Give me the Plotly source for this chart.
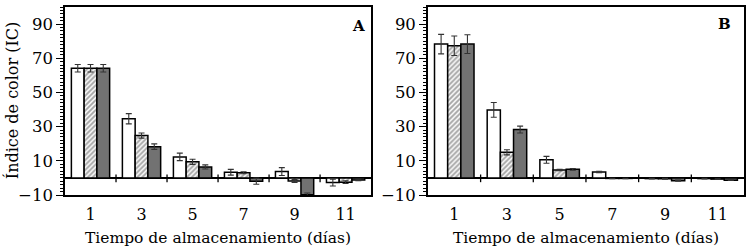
import plotly.graph_objects as go
from plotly.subplots import make_subplots

days = [1, 3, 5, 7, 9, 11]
tick_labels = ["1", "3", "5", "7", "9", "11"]
y_ticks = [-10, 10, 30, 50, 70, 90]

# Panel A
a_white = [64.2, 34.6, 12.3, 3.3, 3.7, -2.7]
a_white_err = [2.2, 3.0, 2.2, 1.7, 2.3, 2.0]
a_hatch = [64.2, 24.8, 9.4, 3.0, -1.8, -2.5]
a_hatch_err = [2.2, 1.5, 1.5, 0.6, 0.8, 0.8]
a_dark = [64.2, 18.3, 6.4, -1.9, -9.8, -1.2]
a_dark_err = [2.2, 1.6, 1.2, 1.8, 1.0, 0.4]

# Panel B
b_white = [78.3, 39.8, 10.6, 3.5, -0.4, -0.4]
b_white_err = [5.7, 4.3, 2.0, 0.4, 0.2, 0.2]
b_hatch = [77.3, 15.0, 4.6, -0.3, -0.5, -0.7]
b_hatch_err = [5.7, 1.5, 0.4, 0.1, 0.2, 0.2]
b_dark = [78.3, 28.3, 5.0, -0.3, -1.6, -1.3]
b_dark_err = [5.5, 2.0, 0.5, 0.1, 0.3, 0.2]

FONT = "DejaVu Serif"
W, H = 751, 251
ML, MR, MT, MB = 65, 5, 5, 56

fig = make_subplots(rows=1, cols=2, horizontal_spacing=0.08)


def add_bar(vals, errs, col, style):
    marker = dict(line=dict(color="black", width=1.5))
    if style == "white":
        marker["color"] = "white"
    elif style == "hatch":
        marker["color"] = "white"
        marker["pattern"] = dict(shape="/", fgcolor="#4a4a4a", bgcolor="white", size=3.5, solidity=0.55)
    else:
        marker["color"] = "#727272"
    fig.add_trace(go.Bar(
        x=days, y=vals, marker=marker, showlegend=False,
        error_y=dict(type="data", array=errs, visible=True, color="#333333", thickness=1.1, width=3),
    ), row=1, col=col)


for col, sets in [(1, [(a_white, a_white_err, "white"), (a_hatch, a_hatch_err, "hatch"), (a_dark, a_dark_err, "dark")]),
                  (2, [(b_white, b_white_err, "white"), (b_hatch, b_hatch_err, "hatch"), (b_dark, b_dark_err, "dark")])]:
    for v, e, s in sets:
        add_bar(v, e, col, s)

pw = W - ML - MR
dA = [0, (372 - ML) / pw]
dB = [(429 - ML) / pw, 1]

axis_common = dict(showline=True, linecolor="black", linewidth=1.5, mirror=True, showgrid=False)

for i, dom in [(1, dA), (2, dB)]:
    xa = "xaxis" if i == 1 else "xaxis2"
    ya = "yaxis" if i == 1 else "yaxis2"
    fig.layout[xa].update(domain=dom, range=[0, 12], tickvals=days, ticktext=tick_labels, ticks="",
                          zeroline=False, tickfont=dict(family=FONT, size=16, color="black"),
                          ticklabelstandoff=4,
                          title=dict(text="Tiempo de almacenamiento (días)", font=dict(family=FONT, size=15.5, color="black"), standoff=9),
                          **axis_common)
    fig.layout[ya].update(range=[-10, 100], tickvals=y_ticks, ticks="outside", ticklen=7, tickwidth=1.2,
                          tickcolor="black", zeroline=True, zerolinecolor="black", zerolinewidth=1.5,
                          minor=dict(tickmode="linear", tick0=-10, dtick=2, ticks="outside", ticklen=3, tickcolor="black", tickwidth=1),
                          tickfont=dict(family=FONT, size=16.5, color="black"), **axis_common)

# group separators on the zero line
for i in (1, 2):
    xr = "x" if i == 1 else "x2"
    yr = "y" if i == 1 else "y2"
    for k in range(len(days) - 1):
        xs = (days[k] + days[k + 1]) / 2
        fig.add_shape(type="line", x0=xs, x1=xs, y0=-2.5, y1=2, xref=xr, yref=yr,
                      line=dict(color="black", width=1.3))

fig.add_annotation(text="<b>A</b>", x=0.985, y=0.9, xref="x domain", yref="y domain",
                   xanchor="right", yanchor="middle", showarrow=False,
                   font=dict(family=FONT, size=15, color="black"))
fig.add_annotation(text="<b>B</b>", x=0.965, y=0.91, xref="x2 domain", yref="y2 domain",
                   xanchor="right", yanchor="middle", showarrow=False,
                   font=dict(family=FONT, size=15, color="black"))
fig.add_annotation(text="Índice de color (IC)", x=(12 - ML) / pw, y=0.5, xref="paper", yref="paper",
                   xanchor="center", yanchor="middle", textangle=-90, showarrow=False,
                   font=dict(family=FONT, size=16, color="black"))

fig.update_layout(width=W, height=H, margin=dict(l=ML, r=MR, t=MT, b=MB),
                  barmode="group", bargap=0.25, bargroupgap=0,
                  plot_bgcolor="white", paper_bgcolor="white")

fig.write_html("out.html", config={"displayModeBar": False},
               post_script="document.body.style.margin='0px';")
